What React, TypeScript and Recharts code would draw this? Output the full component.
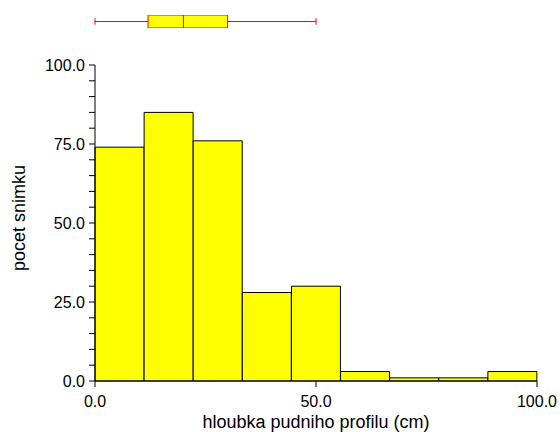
import React from 'react';
import {
  Bar,
  ComposedChart,
  Label,
  ReferenceArea,
  ReferenceLine,
  XAxis,
  YAxis,
} from 'recharts';

// histogram bins (9 equal bins over 0-100 cm)
const binLabels = ['0-11', '11-22', '22-33', '33-44', '44-56', '56-67', '67-78', '78-89', '89-100'];
const binStarts = [0, 11.1, 22.2, 33.3, 44.4, 55.6, 66.7, 77.8, 88.9];
const binCounts = [74, 85, 76, 28, 30, 3, 1, 1, 3];

const xTicks = [0, 50, 100];
const yTicks = [0, 5, 10, 15, 20, 25, 30, 35, 40, 45, 50, 55, 60, 65, 70, 75, 80, 85, 90, 95, 100];
const yLabelTicks = [0, 25, 50, 75, 100];

// box plot summary: min, q1, median, q3, max
const boxStats = [0, 12, 20, 30, 50];

const histData = binLabels.map((bin, i) => ({ bin, start: binStarts[i], count: binCounts[i] }));
const boxData = [{ depth: boxStats[0] }, { depth: boxStats[4] }];

const FONT = '"Liberation Sans", Arial, sans-serif';
const BOX_RED = '#ff0000';

const YTick = (props: any) => {
  const { x, y, payload } = props;
  if (!yLabelTicks.includes(payload.value)) return null;
  return (
    <text x={x - 2} y={y} dy={5.5} textAnchor="end" fontSize={16} fill="#000" fontFamily={FONT}>
      {payload.value.toFixed(1)}
    </text>
  );
};

const XTick = (props: any) => {
  const { x, y, payload } = props;
  return (
    <text x={x} y={y} dy={18} textAnchor="middle" fontSize={16} fill="#000" fontFamily={FONT}>
      {payload.value.toFixed(1)}
    </text>
  );
};

const XTitle = ({ viewBox }: any) => (
  <text
    x={viewBox.x + viewBox.width / 2}
    y={viewBox.y + 47}
    textAnchor="middle"
    fontSize={18}
    fill="#000"
    fontFamily={FONT}
  >
    hloubka pudniho profilu (cm)
  </text>
);

const YTitle = ({ viewBox }: any) => {
  const cx = viewBox.x + 25;
  const cy = viewBox.y + viewBox.height / 2 - 5;
  return (
    <text
      x={cx}
      y={cy}
      transform={`rotate(-90, ${cx}, ${cy})`}
      textAnchor="middle"
      fontSize={18}
      fill="#000"
      fontFamily={FONT}
    >
      pocet snimku
    </text>
  );
};

function BoxPlot() {
  const [min, q1, med, q3, max] = boxStats;
  return (
    <ComposedChart
      width={560}
      height={13}
      data={boxData}
      margin={{ top: 0, right: 23, left: 95, bottom: 0 }}
    >
      <XAxis dataKey="depth" type="number" domain={[0, 100]} hide allowDataOverflow />
      <YAxis type="number" domain={[0, 1]} hide allowDataOverflow />
      <ReferenceLine segment={[{ x: min, y: 0.5 }, { x: q1, y: 0.5 }]} stroke={BOX_RED} strokeWidth={1} />
      <ReferenceLine segment={[{ x: q3, y: 0.5 }, { x: max, y: 0.5 }]} stroke={BOX_RED} strokeWidth={1} />
      <ReferenceLine segment={[{ x: min, y: 0.25 }, { x: min, y: 0.75 }]} stroke={BOX_RED} strokeWidth={1} />
      <ReferenceLine segment={[{ x: max, y: 0.25 }, { x: max, y: 0.75 }]} stroke={BOX_RED} strokeWidth={1} />
      <ReferenceArea x1={q1} x2={q3} y1={0} y2={1} fill="#ffff00" fillOpacity={1} stroke={BOX_RED} strokeWidth={1} />
      <ReferenceLine x={med} stroke={BOX_RED} strokeWidth={1} />
    </ComposedChart>
  );
}

export default function App() {
  return (
    <div
      style={{
        position: 'absolute',
        left: 0,
        top: 0,
        width: 560,
        height: 432,
        background: '#fff',
        fontFamily: FONT,
      }}
    >
      <div style={{ position: 'absolute', left: 0, top: 15 }}>
        <BoxPlot />
      </div>
      <div style={{ position: 'absolute', left: 0, top: 0 }}>
        <ComposedChart
          width={560}
          height={432}
          data={histData}
          margin={{ top: 65, right: 23, left: 0, bottom: 0 }}
          barCategoryGap={0}
          barGap={0}
        >
          <XAxis xAxisId="bins" dataKey="bin" hide height={0} />
          <XAxis
            xAxisId="depth"
            dataKey="start"
            type="number"
            domain={[0, 100]}
            ticks={xTicks}
            interval={0}
            allowDataOverflow
            height={51}
            tickSize={6}
            tick={<XTick />}
            stroke="#000"
          >
            <Label content={<XTitle />} />
          </XAxis>
          <YAxis
            type="number"
            domain={[0, 100]}
            ticks={yTicks}
            interval={0}
            width={95}
            tickSize={6}
            tick={<YTick />}
            stroke="#000"
          >
            <Label content={<YTitle />} />
          </YAxis>
          <Bar
            xAxisId="bins"
            dataKey="count"
            fill="#ffff00"
            stroke="#000"
            strokeWidth={1}
            isAnimationActive={false}
          />
        </ComposedChart>
      </div>
    </div>
  );
}
